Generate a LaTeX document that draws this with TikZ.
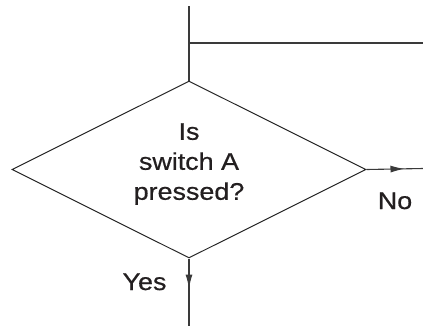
\documentclass[tikz,border=0pt]{standalone}
\usepackage{fontspec}
\usetikzlibrary{shapes.geometric,arrows.meta,decorations.markings}
\newfontfamily\lblfont[FakeStretch=1.12,FakeBold=0.6]{Liberation Sans}
\definecolor{inkline}{HTML}{3A3A3A}
\definecolor{inktext}{HTML}{231F20}
\tikzset{
  flowline/.style={draw=inkline, line width=1.1pt},
  decision/.style={shape=diamond, draw=black!85, line width=1pt, aspect=2,
    inner sep=0pt, minimum width=354pt, minimum height=177pt},
  lbl/.style={font=\lblfont\fontsize{24}{30}\selectfont, text=inktext, inner sep=0pt},
  midarrow/.style={postaction={decorate}, decoration={markings,
    mark=at position #1 with {\arrow[inkline]{Latex[length=14pt,width=7pt]}}}}
}
\begin{document}
\begin{tikzpicture}[x=1pt,y=-1pt]
  \useasboundingbox (0,0) rectangle (423,333);
  % decision box and its question
  \node[decision] (d) at (189,169.5) {};
  \node[lbl, align=center] (q) at (189,164) {Is\\switch A\\pressed?};
  % free ends of the connectors
  \coordinate (top) at (189,6);
  \coordinate (join) at (189,43);
  \coordinate (loopend) at (423,43);
  \coordinate (noend) at (423,168.5);
  \coordinate (yesend) at (189,326);
  % incoming line and branch to the right
  \draw[flowline] (top) -- (d.north);
  \draw[flowline] (join) -- (loopend);
  % outcomes
  \draw[flowline, midarrow=38pt] (d.east) -- (noend);
  \draw[flowline, midarrow=30pt] (d.south) -- (yesend);
  \node[lbl, anchor=base] (no) at (395,209) {No};
  \node[lbl, anchor=base] (yes) at (144.5,290) {Yes};
\end{tikzpicture}
\end{document}
